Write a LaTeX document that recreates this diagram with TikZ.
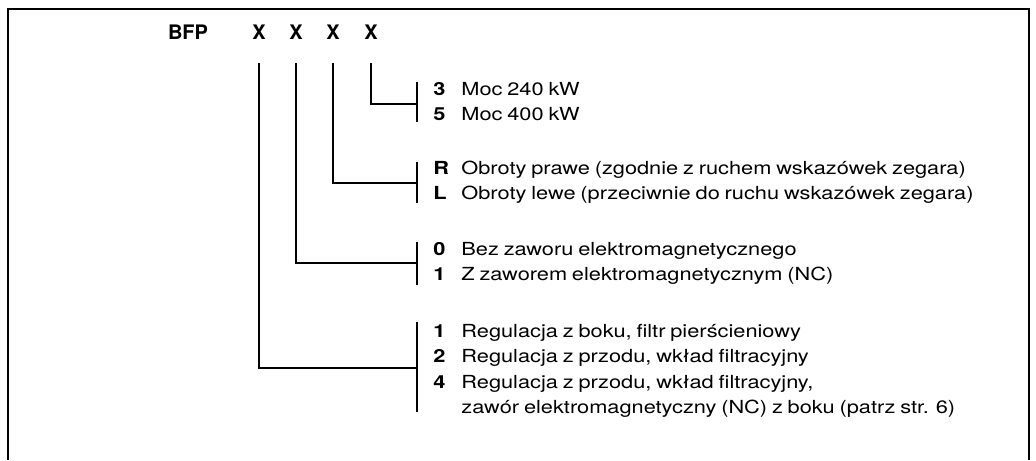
\documentclass[tikz,border=0pt]{standalone}
\usepackage{fontspec}
\setmainfont{TeX Gyre Heros}
\newfontfamily\bodyfont{TeX Gyre Heros}[FakeStretch=1.21,WordSpace=0.8]
\begin{document}
\begin{tikzpicture}[x=0.5pt,y=0.5pt,yscale=-1,xscale=1,
  frame/.style={line width=1pt},
  conn/.style={line width=0.7pt},
  hdr/.style={font=\fontsize{10}{12}\selectfont\bfseries,inner sep=0pt,anchor=base},
  code/.style={font=\bodyfont\fontsize{9}{11}\selectfont\bfseries,inner sep=0pt,anchor=base west},
  desc/.style={font=\bodyfont\fontsize{9}{11}\selectfont,inner sep=0pt,anchor=base west}]
\useasboundingbox (0,0) rectangle (1036,460);

%Shape: Frame (open at the bottom)
\draw [frame] (8,460) -- (8,9) -- (1029,9) -- (1029,460) ;

% Text Node
\node [hdr] (bfp) at (188,40) {BFP};
% Text Node
\node [hdr] (x1) at (259,40) {X};
% Text Node
\node [hdr] (x2) at (296,40) {X};
% Text Node
\node [hdr] (x3) at (333,40) {X};
% Text Node
\node [hdr] (x4) at (371,40) {X};

%Coordinates: brackets
\coordinate (t4) at (417,82);  \coordinate (e4) at (417,104); \coordinate (b4) at (417,122);
\coordinate (t3) at (417,162); \coordinate (e3) at (417,183); \coordinate (b3) at (417,203);
\coordinate (t2) at (417,242); \coordinate (e2) at (417,263); \coordinate (b2) at (417,285);
\coordinate (t1) at (417,322); \coordinate (e1) at (417,368); \coordinate (b1) at (417,412);

%Straight Lines
\draw [conn] ([yshift=11.5pt]x4.south) |- (e4) ;
\draw [conn] (t4) -- (b4) ;
%Straight Lines
\draw [conn] ([yshift=11.5pt]x3.south) |- (e3) ;
\draw [conn] (t3) -- (b3) ;
%Straight Lines
\draw [conn] ([yshift=11.5pt]x2.south) |- (e2) ;
\draw [conn] (t2) -- (b2) ;
%Straight Lines
\draw [conn] ([yshift=11.5pt]x1.south) |- (e1) ;
\draw [conn] (t1) -- (b1) ;

% Text Node
\node [code] (k43) at (433,96) {3};
\node [desc] (d43) at (461,96) {Moc 240 kW};
% Text Node
\node [code] (k45) at (433,120) {5};
\node [desc] (d45) at (461,120) {Moc 400 kW};
% Text Node
\node [code] (k3r) at (433,174) {R};
\node [desc] (d3r) at (461,174) {Obroty prawe (zgodnie z ruchem wskazówek zegara)};
% Text Node
\node [code] (k3l) at (433,199) {L};
\node [desc] (d3l) at (461,199) {Obroty lewe (przeciwnie do ruchu wskazówek zegara)};
% Text Node
\node [code] (k20) at (433,255) {0};
\node [desc] (d20) at (461,255) {Bez zaworu elektromagnetycznego};
% Text Node
\node [code] (k21) at (433,280) {1};
\node [desc] (d21) at (461,280) {Z zaworem elektromagnetycznym (NC)};
% Text Node
\node [code] (k11) at (433,337) {1};
\node [desc] (d11) at (461,337) {Regulacja z boku, filtr pierścieniowy};
% Text Node
\node [code] (k12) at (433,362) {2};
\node [desc] (d12) at (461,362) {Regulacja z przodu, wkład filtracyjny};
% Text Node
\node [code] (k14) at (433,388) {4};
\node [desc] (d14) at (461,388) {Regulacja z przodu, wkład filtracyjny,};
\node [desc] (d14b) at (461,413) {zawór elektromagnetyczny (NC) z boku (patrz str. 6)};

\end{tikzpicture}
\end{document}
